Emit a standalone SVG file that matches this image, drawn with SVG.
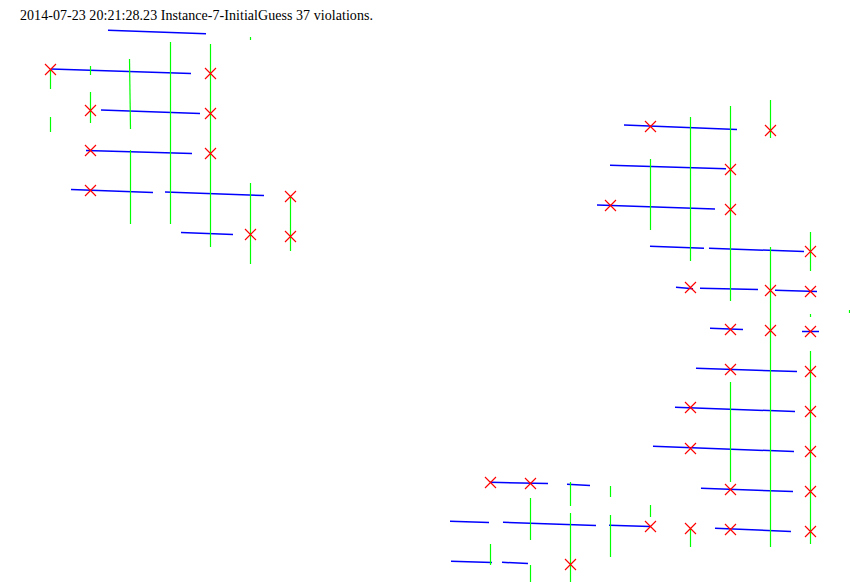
<svg xmlns="http://www.w3.org/2000/svg" xmlns:xlink="http://www.w3.org/1999/xlink" width="850" height="582" viewBox="0 0 850 582">
<style>
text{font-family:"Liberation Serif","Times New Roman",serif;font-size:14px;fill:#000;letter-spacing:.05px}
#blue path{stroke:#0000ff;stroke-width:1.5;fill:none}
#green path{stroke:#00ff00;stroke-width:1.2;fill:none}
#x{stroke:#ff0000;stroke-width:1.15;fill:none}
</style>
<defs><path id="x" d="M-5.5-5.5L5.5 5.5M-5.5 5.5L5.5-5.5"/></defs>
<rect width="850" height="582" fill="#fff"/>
<text x="20" y="20">2014-07-23 20:21:28.23 Instance-7-InitialGuess 37 violations.</text>
<g id="blue">
<path d="M108 30.3L206 33.7"/><path d="M51 69L191 73.5"/><path d="M101 110L200 113.5"/><path d="M86 150.5L192 153.5"/><path d="M71 189.5L153 192.5"/><path d="M165 192L264 195.5"/><path d="M181 232.5L233 234.5"/>
<path d="M624 125L737 129.5"/><path d="M610 165.3L726 168.8"/><path d="M597 205L715 209"/><path d="M650 246.3L704 248.3"/><path d="M709 248.3L804 251.5"/><path d="M676 287.3L693 288.7"/><path d="M700 288.3L758 289.5"/><path d="M775 290.3L817 291.5"/><path d="M710 328.3L743 329.5"/><path d="M802 331.5L819 331.5"/>
<path d="M696 368.3L797 371.5"/><path d="M675 407.3L795 411.5"/><path d="M653 446.3L794 451.5"/><path d="M701 488.3L793 491.5"/><path d="M715 528.3L791 531.5"/>
<path d="M490 482.3L548 483.5"/><path d="M567 484.3L590 485.5"/><path d="M450 521.3L489 522.5"/><path d="M503 522.3L596 525.5"/><path d="M609 525.3L650 526.5"/><path d="M451 561.3L492 562.5"/><path d="M502 562.3L528 563.5"/>
</g>
<g id="green">
<path d="M50.5 69V89"/><path d="M50.5 117V132"/><path d="M90.5 66V75"/><path d="M90.5 92V123"/><path d="M129.5 59L130.5 129"/><path d="M130.5 150V224"/><path d="M170.5 42V224"/><path d="M210.5 44V247"/><path d="M250.5 37V40"/><path d="M250.5 183V264"/><path d="M290.5 197V251"/>
<path d="M770.5 100V138"/><path d="M730.5 106V301"/><path d="M690.5 117V261"/><path d="M650.5 159V230"/><path d="M810.5 232V271"/><path d="M770.5 247V547"/><path d="M810.5 314V317"/><path d="M849.5 310V313"/><path d="M810.5 351V544"/><path d="M730.5 382V482"/><path d="M650.5 505V517"/><path d="M690.5 528V547"/>
<path d="M570.5 482V506"/><path d="M570.5 513V582"/><path d="M530.5 498V540"/><path d="M530.5 565V582"/><path d="M610.5 486V497"/><path d="M610.5 515V557"/><path d="M490.5 544V565"/>
</g>
<g id="violations">
<use href="#x" x="50.5" y="69.5"/><use href="#x" x="210.5" y="73.5"/><use href="#x" x="90.5" y="110.5"/><use href="#x" x="210.5" y="113.5"/><use href="#x" x="90.5" y="150.5"/><use href="#x" x="210.5" y="153.5"/><use href="#x" x="90.5" y="190.5"/><use href="#x" x="290.5" y="196.5"/><use href="#x" x="250.5" y="234.5"/><use href="#x" x="290.5" y="236.5"/>
<use href="#x" x="650.5" y="126.5"/><use href="#x" x="770.5" y="130.5"/><use href="#x" x="730.5" y="169.5"/><use href="#x" x="610.5" y="205.5"/><use href="#x" x="730.5" y="209.5"/><use href="#x" x="810.5" y="251.5"/><use href="#x" x="690.5" y="287.5"/><use href="#x" x="770.5" y="290.5"/><use href="#x" x="810.5" y="291.5"/><use href="#x" x="730.5" y="329.5"/><use href="#x" x="770.5" y="330.5"/><use href="#x" x="810.5" y="331.5"/><use href="#x" x="730.5" y="369.5"/><use href="#x" x="810.5" y="371.5"/><use href="#x" x="690.5" y="407.5"/><use href="#x" x="810.5" y="411.5"/><use href="#x" x="690.5" y="448.5"/><use href="#x" x="810.5" y="451.5"/><use href="#x" x="730.5" y="489.5"/><use href="#x" x="810.5" y="491.5"/><use href="#x" x="650.5" y="526.5"/><use href="#x" x="690.5" y="528.5"/><use href="#x" x="730.5" y="529.5"/><use href="#x" x="810.5" y="531.5"/><use href="#x" x="490.5" y="482.5"/><use href="#x" x="530.5" y="483.5"/><use href="#x" x="570.5" y="564.5"/>
</g>
</svg>
